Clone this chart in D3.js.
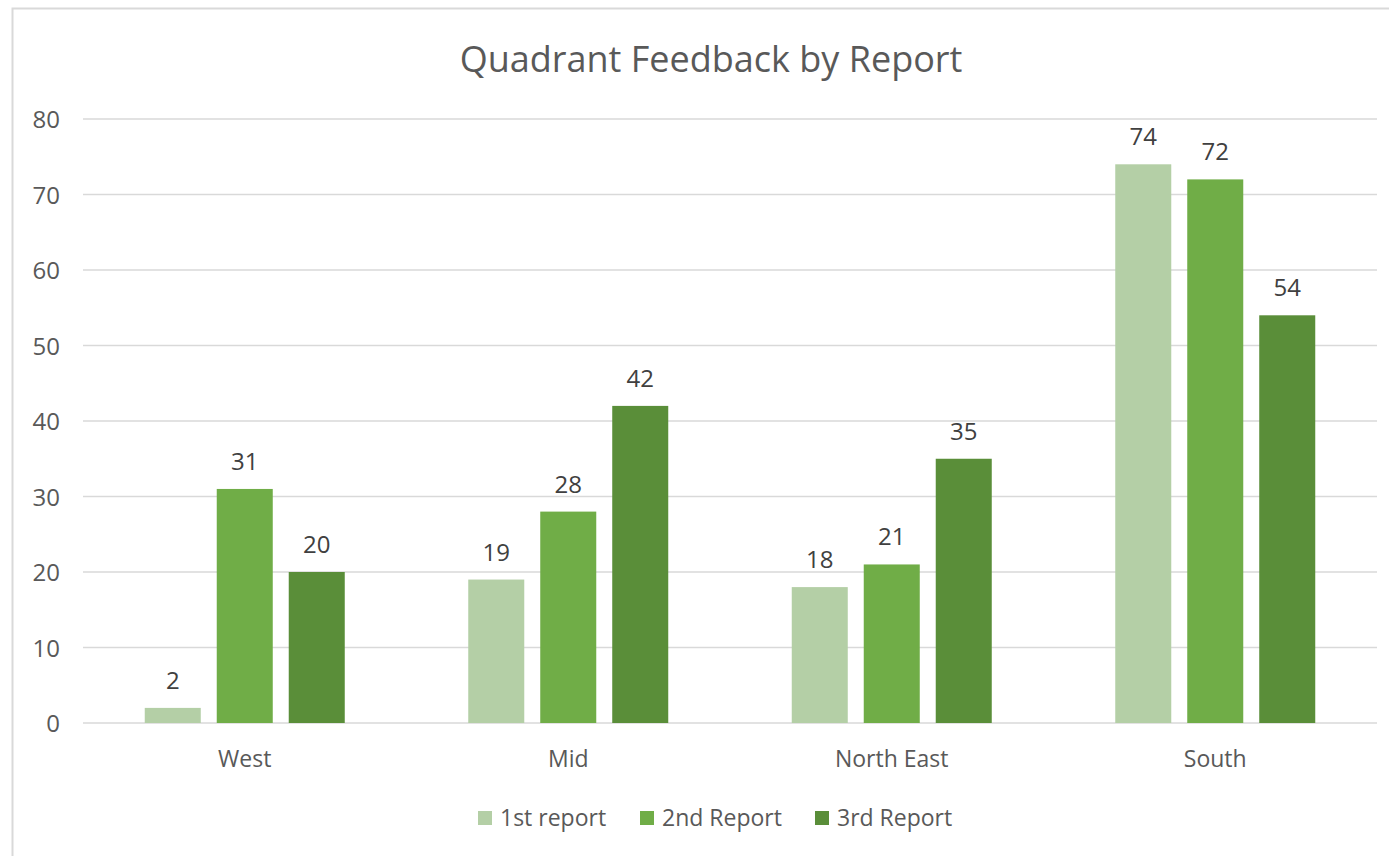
<!DOCTYPE html>
<html>
<head>
<meta charset="utf-8">
<script src="https://cdn.jsdelivr.net/npm/d3@7"></script>
<style>
  body { margin: 0; background: #fff; }
  text { font-family: "Open Sans", "Noto Sans", sans-serif; }
</style>
</head>
<body>
<div id="chart"></div>
<script>
var width = 1389;
var height = 856;

var categories = ["West", "Mid", "North East", "South"];
var seriesNames = ["1st report", "2nd Report", "3rd Report"];
var firstReport = [2, 19, 18, 74];
var secondReport = [31, 28, 21, 72];
var thirdReport = [20, 42, 35, 54];
var yTicks = [0, 10, 20, 30, 40, 50, 60, 70, 80];
var colors = ["#b4cfa6", "#70ad47", "#5a8e39"];

var seriesValues = [firstReport, secondReport, thirdReport];

const svg = d3.select("#chart")
    .append("svg")
    .attr("width", width)
    .attr("height", height);

// chart frame (cut off at right and bottom like the screenshot)
svg.append("rect")
    .attr("x", 12.5)
    .attr("y", 8.5)
    .attr("width", 1400)
    .attr("height", 900)
    .attr("fill", "none")
    .attr("stroke", "#d9d9d9")
    .attr("stroke-width", 2);

svg.append("text")
    .attr("x", 711)
    .attr("y", 72)
    .attr("text-anchor", "middle")
    .attr("font-size", 36)
    .attr("fill", "#595959")
    .text("Quadrant Feedback by Report");

var x0 = d3.scaleBand()
    .domain(categories)
    .range([83, 1377]);

var x1 = d3.scaleBand()
    .domain(seriesNames)
    .range([61.75, 261.75])
    .paddingInner(0.222);

var y = d3.scaleLinear()
    .domain([0, 80])
    .range([723, 119]);

// gridlines
svg.selectAll(".grid")
    .data(yTicks)
    .enter().append("line")
    .attr("class", "grid")
    .attr("x1", 83)
    .attr("x2", 1377)
    .attr("y1", d => y(d))
    .attr("y2", d => y(d))
    .attr("stroke", "#d9d9d9")
    .attr("stroke-width", 1.5);

// y tick labels
svg.selectAll(".ytick")
    .data(yTicks)
    .enter().append("text")
    .attr("class", "ytick")
    .attr("x", 60)
    .attr("y", d => y(d) + 9)
    .attr("text-anchor", "end")
    .attr("font-size", 24)
    .attr("fill", "#595959")
    .text(d => d);

var bars = [];
categories.forEach(function (c, i) {
    seriesNames.forEach(function (s, j) {
        bars.push({ cat: c, series: s, idx: j, value: seriesValues[j][i] });
    });
});

svg.selectAll(".bar")
    .data(bars)
    .enter().append("rect")
    .attr("class", "bar")
    .attr("x", d => x0(d.cat) + x1(d.series))
    .attr("y", d => y(d.value))
    .attr("width", x1.bandwidth())
    .attr("height", d => y(0) - y(d.value))
    .attr("fill", d => colors[d.idx]);

svg.selectAll(".label")
    .data(bars)
    .enter().append("text")
    .attr("class", "label")
    .attr("x", d => x0(d.cat) + x1(d.series) + x1.bandwidth() / 2)
    .attr("y", d => y(d.value) - 19)
    .attr("text-anchor", "middle")
    .attr("font-size", 24)
    .attr("fill", "#404040")
    .text(d => d.value);

// category labels
svg.selectAll(".xtick")
    .data(categories)
    .enter().append("text")
    .attr("class", "xtick")
    .attr("x", d => x0(d) + x0.bandwidth() / 2)
    .attr("y", 767)
    .attr("text-anchor", "middle")
    .attr("font-size", 23)
    .attr("fill", "#595959")
    .text(d => d);

// legend
var legendX = [478, 640, 815];
var legend = svg.selectAll(".legend")
    .data(seriesNames)
    .enter().append("g")
    .attr("class", "legend")
    .attr("transform", (d, i) => "translate(" + legendX[i] + ",811)");

legend.append("rect")
    .attr("width", 14)
    .attr("height", 14)
    .attr("fill", (d, i) => colors[i]);

legend.append("text")
    .attr("x", 22)
    .attr("y", 15)
    .attr("font-size", 23)
    .attr("fill", "#595959")
    .text(d => d);
</script>
</body>
</html>
